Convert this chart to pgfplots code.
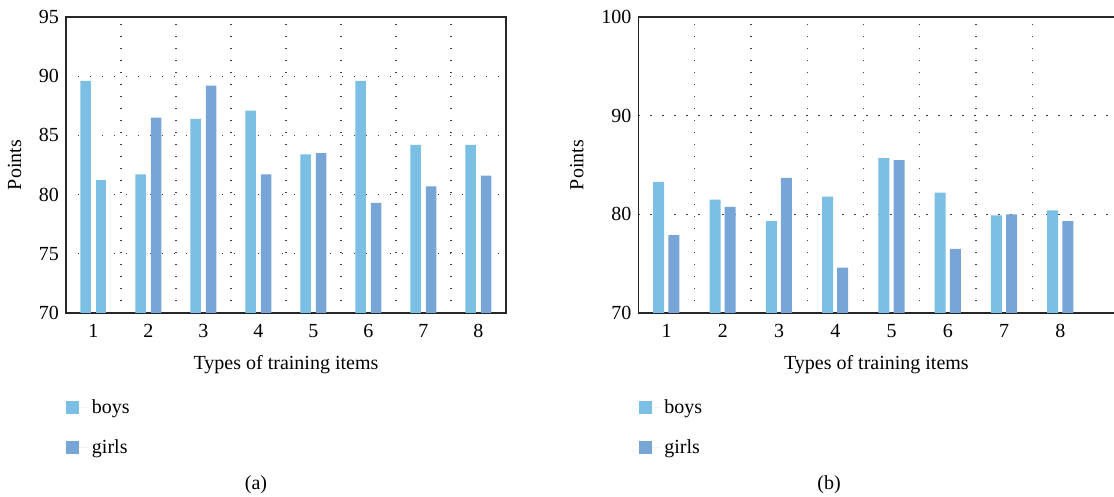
\documentclass[border=0pt]{standalone}
\usepackage{pgfplots}
\pgfplotsset{compat=1.18}
\usepackage{fontspec}
\setmainfont{Liberation Serif}
\definecolor{boyc}{RGB}{123,192,228}
\definecolor{girlc}{RGB}{119,166,214}
\pgfplotsset{
  mybar/.style={
    scale only axis,
    height=148pt,
    ybar,
    bar width=5.3pt,
    xmin=0.5,
    xtick={1,2,3,4,5,6,7,8},
    minor xtick={1.5,2.5,3.5,4.5,5.5,6.5,7.5},
    xmajorgrids=false, xminorgrids=true, ymajorgrids=true,
    grid style={black!75, line width=0.65pt, dash pattern=on 0.65pt off 5.35pt},
    major tick length=0pt, minor tick length=0pt,
    axis line style={black!85, line width=0.6pt},
    tick label style={font=\fontsize{10}{12}\selectfont},
    xticklabel style={yshift=-2pt},
    label style={font=\fontsize{10}{12}\selectfont},
    /pgf/number format/assume math mode=true,
    xlabel={Types of training items},
    xlabel shift=2pt,
    ylabel={Points},
    ylabel shift=2pt,
    legend style={draw=none, inner sep=0pt, row sep=7.5pt, font=\fontsize{10}{12}\selectfont,
      anchor=north west, at={(axis description cs:0,-0.277)}},
    legend cell align=left,
    legend image code/.code={\fill[##1] (0pt,-3.25pt) rectangle (6.5pt,3.25pt); \path (0pt,0pt) -- (10.8pt,0pt);},
  }
}
\begin{document}
\begin{tikzpicture}
\useasboundingbox (0,0) rectangle (557pt,248.5pt);
\begin{axis}[mybar, at={(33pt,92pt)}, anchor=south west, width=220pt, xmax=8.5,
  ymin=70, ymax=95, ytick={70,75,80,85,90,95}]
\addplot[draw=none, fill=boyc, bar shift=-3.9pt] coordinates {(1,89.6) (2,81.7) (3,86.4) (4,87.1) (5,83.4) (6,89.6) (7,84.2) (8,84.2)};
\addplot[draw=none, fill=girlc, bar shift=3.8pt] coordinates {(2,86.5) (3,89.2) (4,81.7) (5,83.5) (6,79.3) (7,80.7) (8,81.6)};
\addplot[draw=none, fill=boyc, bar shift=3.8pt, forget plot] coordinates {(1,81.2)};
\legend{boys, girls}
\end{axis}
\begin{axis}[mybar, at={(319.2pt,92pt)}, anchor=south west, width=238pt, xmax=8.96,
  bar width=5.5pt,
  axis x line*=box, axis y line*=left,
  ymin=70, ymax=100, ytick={70,80,90,100}]
\addplot[draw=none, fill=boyc, bar shift=-3.9pt] coordinates {(1,83.3) (2,81.5) (3,79.3) (4,81.8) (5,85.7) (6,82.2) (7,79.9) (8,80.4)};
\addplot[draw=none, fill=girlc, bar shift=3.7pt] coordinates {(1,77.9) (2,80.75) (3,83.7) (4,74.6) (5,85.5) (6,76.5) (7,80.0) (8,79.3)};
\legend{boys, girls}
\end{axis}
\node[font=\fontsize{10}{12}\selectfont] at (128pt,6pt) {(a)};
\node[font=\fontsize{10}{12}\selectfont] at (414.5pt,6pt) {(b)};
\end{tikzpicture}
\end{document}
